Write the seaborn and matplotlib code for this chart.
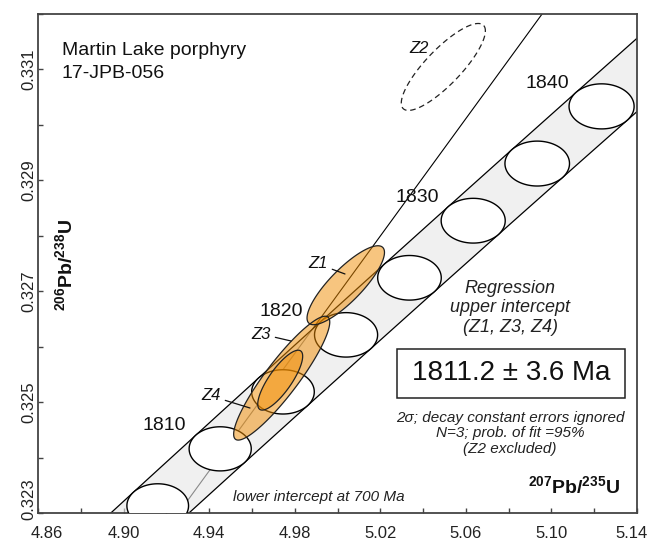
import numpy as np
import pandas as pd
import matplotlib
matplotlib.use("Agg")
import matplotlib.pyplot as plt
from matplotlib.patches import Polygon, Rectangle
from matplotlib.ticker import MultipleLocator, FormatStrFormatter
from matplotlib.transforms import ScaledTranslation
import seaborn as sns

# ---------------- data ----------------
# decay constants (1/yr) and their 2-sigma relative uncertainties
LAMBDA_238 = 1.55125e-10
LAMBDA_235 = 9.8485e-10
ERR_238 = 0.00107
ERR_235 = 0.00137

# concordia age markers (Ma)
marker_ages = [1800, 1805, 1810, 1815, 1820, 1825, 1830, 1835, 1840]
label_ages = [1810, 1820, 1830, 1840]

# zircon analyses (207Pb/235U, 2s, 206Pb/238U, 2s, rho)
grains = ["Z1", "Z2", "Z3", "Z4"]
r75 = [5.00386, 5.04947, 4.97392, 4.97322]
r75_err = [0.01810, 0.01965, 0.02246, 0.01050]
r68 = [0.327108, 0.331045, 0.325432, 0.325396]
r68_err = [0.000712, 0.000784, 0.001117, 0.000540]
rho = [0.83, 0.83, 0.905, 0.80]
included = [True, False, True, True]

upper_intercept = 1811.2  # Ma
lower_intercept = 700.0   # Ma

x_ticks = [4.86, 4.90, 4.94, 4.98, 5.02, 5.06, 5.10, 5.14]
y_ticks = [0.323, 0.325, 0.327, 0.329, 0.331]

# ---------------- helpers ----------------
def concordia(t_ma):
    t = np.asarray(t_ma, dtype=float) * 1e6
    return np.exp(LAMBDA_235 * t) - 1.0, np.exp(LAMBDA_238 * t) - 1.0

def conc_err(t_ma):
    t = np.asarray(t_ma, dtype=float) * 1e6
    x, y = concordia(t_ma)
    a = (x + 1.0) * LAMBDA_235 * t * ERR_235
    b = (y + 1.0) * LAMBDA_238 * t * ERR_238
    return a, b

theta = np.linspace(0, 2 * np.pi, 240)

# ---------------- figure ----------------
sns.set_theme(style="ticks")
plt.rcParams["font.family"] = ["Liberation Sans", "DejaVu Sans"]
plt.rcParams["mathtext.fontset"] = "custom"
plt.rcParams["mathtext.rm"] = "Liberation Sans"
plt.rcParams["mathtext.bf"] = "Liberation Sans:bold"
plt.rcParams["mathtext.it"] = "Liberation Sans:italic"

fig = plt.figure(figsize=(6.54, 5.41), dpi=100)
ax = fig.add_axes([38 / 654, 28 / 541, 599 / 654, 499 / 541])
ax.set_facecolor("white")

# regression line through the two intercepts
xu, yu = concordia(upper_intercept)
xl, yl = concordia(lower_intercept)
slope = (yu - yl) / (xu - xl)
reg_x = np.array([4.80, 5.20])
reg_y = yu + slope * (reg_x - xu)
sns.lineplot(x=reg_x, y=reg_y, ax=ax, color="black", lw=0.8, zorder=1,
             sort=False, estimator=None)

# concordia band (envelope of decay-constant error ellipses)
tt = np.linspace(1790, 1855, 400)
cx, cy = concordia(tt)
a, b = conc_err(tt)
dxdt = LAMBDA_235 * (cx + 1.0)
dydt = LAMBDA_238 * (cy + 1.0)
nx, ny = -dydt, dxdt
norm = np.sqrt(a**2 * nx**2 + b**2 * ny**2)
px = a**2 * nx / norm
py = b**2 * ny / norm
ul_x, ul_y = cx + px, cy + py
lr_x, lr_y = cx - px, cy - py
band = Polygon(np.column_stack([np.r_[ul_x, lr_x[::-1]], np.r_[ul_y, lr_y[::-1]]]),
               closed=True, facecolor="#e6e6e6", edgecolor="none", alpha=0.6, zorder=2)
ax.add_patch(band)
sns.lineplot(x=ul_x, y=ul_y, ax=ax, color="black", lw=0.9, zorder=2.5, sort=False, estimator=None)
sns.lineplot(x=lr_x, y=lr_y, ax=ax, color="black", lw=0.9, zorder=2.5, sort=False, estimator=None)

# concordia age ellipses
for age in marker_ages:
    mx, my = concordia(age)
    ea, eb = conc_err(age)
    pts = np.column_stack([mx + ea * np.cos(theta), my + eb * np.sin(theta)])
    ax.add_patch(Polygon(pts, closed=True, facecolor="white", edgecolor="black",
                         lw=1.0, zorder=3))

label_dx = {1810: -56, 1820: -65, 1830: -56, 1840: -54}
for age in label_ages:
    mx, my = concordia(age)
    ax.annotate(str(age), xy=(mx, my), xycoords="data",
                xytext=(label_dx[age], 23), textcoords="offset pixels",
                ha="center", va="center", fontsize=14, color="#111111", zorder=6)

# zircon error ellipses
for g, x0, sx, y0, sy, r, inc in zip(grains, r75, r75_err, r68, r68_err, rho, included):
    ex = x0 + sx * np.cos(theta)
    ey = y0 + sy * (r * np.cos(theta) + np.sqrt(1 - r**2) * np.sin(theta))
    if inc:
        ax.add_patch(Polygon(np.column_stack([ex, ey]), closed=True,
                             facecolor="#f08c00", alpha=0.5, edgecolor="none", zorder=4))
        ax.add_patch(Polygon(np.column_stack([ex, ey]), closed=True,
                             facecolor="none", edgecolor="#222222", lw=0.9, zorder=4.5))
    else:
        ax.add_patch(Polygon(np.column_stack([ex, ey]), closed=True,
                             facecolor="none", edgecolor="#222222", lw=0.9,
                             linestyle=(0, (4.5, 3)), zorder=4.5))

# grain labels with leaders
lab_kw = dict(fontsize=12, style="italic", color="#111111", ha="center", va="center",
              xycoords="axes fraction", textcoords="axes fraction", zorder=6)
ax.annotate("Z1", xy=(0.5125, 0.479), xytext=(0.4674, 0.499),
            arrowprops=dict(arrowstyle="-", lw=0.9, color="#111111", shrinkA=1, shrinkB=0), **lab_kw)
ax.annotate("Z3", xy=(0.4224, 0.3447), xytext=(0.3723, 0.3587),
            arrowprops=dict(arrowstyle="-", lw=0.9, color="#111111", shrinkA=1, shrinkB=0), **lab_kw)
ax.annotate("Z4", xy=(0.3539, 0.2104), xytext=(0.2888, 0.2345),
            arrowprops=dict(arrowstyle="-", lw=0.9, color="#111111", shrinkA=1, shrinkB=0), **lab_kw)
ax.text(0.636, 0.930, "Z2", transform=ax.transAxes, fontsize=12, style="italic",
        color="#111111", ha="center", va="center", zorder=6)

# titles / annotations
ax.text(0.040, 0.918, "Martin Lake porphyry", transform=ax.transAxes, fontsize=14,
        ha="left", va="baseline", color="#111111")
ax.text(0.040, 0.872, "17-JPB-056", transform=ax.transAxes, fontsize=14,
        ha="left", va="baseline", color="#111111")

ax.text(0.788, 0.411, "Regression\nupper intercept\n(Z1, Z3, Z4)", transform=ax.transAxes,
        fontsize=13, style="italic", ha="center", va="center", linespacing=1.2, color="#222222")
ax.add_patch(Rectangle((0.599, 0.2305), 0.381, 0.0982, transform=ax.transAxes,
                       facecolor="white", edgecolor="#222222", lw=1.1, zorder=5))
ax.text(0.790, 0.2806, f"{upper_intercept:.1f} \u00b1 3.6 Ma", transform=ax.transAxes,
        fontsize=20, ha="center", va="center", color="#111111", zorder=6)
ax.text(0.788, 0.160, "2\u03c3; decay constant errors ignored\nN=3; prob. of fit =95%\n(Z2 excluded)",
        transform=ax.transAxes, fontsize=11, style="italic", ha="center", va="center",
        linespacing=1.15, color="#222222")
ax.text(0.3255, 0.024, f"lower intercept at {lower_intercept:.0f} Ma", transform=ax.transAxes,
        fontsize=11, style="italic", ha="left", va="baseline", color="#222222")

ax.text(0.972, 0.040, r"$^{\mathbf{207}}\mathbf{Pb/}^{\mathbf{235}}\mathbf{U}$",
        transform=ax.transAxes, fontsize=14, ha="right", va="baseline", color="#111111")
ax.text(0.045, 0.497, r"$^{\mathbf{206}}\mathbf{Pb/}^{\mathbf{238}}\mathbf{U}$",
        transform=ax.transAxes, fontsize=14, ha="center", va="center", rotation=90,
        color="#111111")

# axes styling
ax.set_xlim(4.86, 5.14)
ax.set_ylim(0.323, 0.332)
ax.set_xticks(x_ticks)
ax.set_yticks(y_ticks)
ax.xaxis.set_major_formatter(FormatStrFormatter("%.2f"))
ax.yaxis.set_major_formatter(FormatStrFormatter("%.3f"))
ax.xaxis.set_minor_locator(MultipleLocator(0.02))
ax.yaxis.set_minor_locator(MultipleLocator(0.001))
ax.tick_params(which="both", direction="in", length=3.6, width=1.0, color="#444444",
               labelsize=12, labelcolor="#222222")
ax.tick_params(axis="x", pad=9)
ax.tick_params(axis="y", pad=1)
for s in ax.spines.values():
    s.set_visible(True)
    s.set_color("#444444")
    s.set_linewidth(1.3)
ax.set_xlabel("")
ax.set_ylabel("")

# rotate y tick labels; nudge the corner labels inward like the reference
ylabels = ax.get_yticklabels()
for lbl in ylabels:
    lbl.set_rotation(90)
    lbl.set_va("center")
ylabels[0].set_transform(ylabels[0].get_transform() +
                         ScaledTranslation(0, 14 / 100, fig.dpi_scale_trans))
xlabels = ax.get_xticklabels()
xlabels[0].set_transform(xlabels[0].get_transform() +
                         ScaledTranslation(9 / 100, 0, fig.dpi_scale_trans))
xlabels[-1].set_transform(xlabels[-1].get_transform() +
                          ScaledTranslation(-5 / 100, 0, fig.dpi_scale_trans))

fig.savefig("out.png", dpi=100)
